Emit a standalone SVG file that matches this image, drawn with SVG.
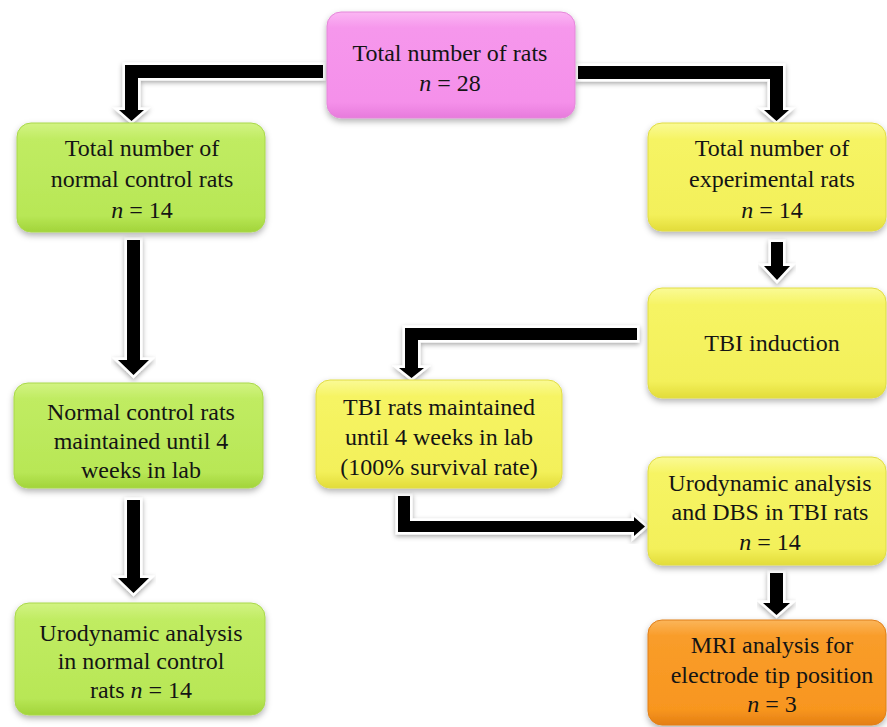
<svg xmlns="http://www.w3.org/2000/svg" width="887" height="727" viewBox="0 0 887 727">
<style>
text{font-family:"Liberation Serif",serif;font-size:24px;fill:#141414;text-anchor:middle}
.i{font-style:italic}
.arrow{fill:#000;stroke:#fff;stroke-width:5;stroke-linejoin:miter;paint-order:stroke;filter:url(#ash)}
.box{filter:url(#sh)}
</style>
<defs>
<filter id="sh" x="-10%" y="-10%" width="120%" height="130%">
<feDropShadow dx="0" dy="3" stdDeviation="3" flood-color="#000" flood-opacity="0.3"/>
</filter>
<filter id="ash" x="-20%" y="-20%" width="140%" height="140%">
<feDropShadow dx="0" dy="2" stdDeviation="2.5" flood-color="#000" flood-opacity="0.35"/>
</filter>
<linearGradient id="gPink" x1="0" y1="0" x2="0" y2="1">
<stop offset="0" stop-color="#fbb6f3"/><stop offset="0.15" stop-color="#f697ec"/><stop offset="0.85" stop-color="#f590ea"/><stop offset="1" stop-color="#e77bdc"/>
</linearGradient>
<linearGradient id="gGreen" x1="0" y1="0" x2="0" y2="1">
<stop offset="0" stop-color="#d2f383"/><stop offset="0.15" stop-color="#c0ec62"/><stop offset="0.85" stop-color="#b8e756"/><stop offset="1" stop-color="#a2d43a"/>
</linearGradient>
<linearGradient id="gYellow" x1="0" y1="0" x2="0" y2="1">
<stop offset="0" stop-color="#fafa96"/><stop offset="0.15" stop-color="#f6f464"/><stop offset="0.85" stop-color="#f3f05a"/><stop offset="1" stop-color="#e2dc3a"/>
</linearGradient>
<linearGradient id="gOrange" x1="0" y1="0" x2="0" y2="1">
<stop offset="0" stop-color="#fbb55a"/><stop offset="0.15" stop-color="#f99d2a"/><stop offset="0.85" stop-color="#f8961f"/><stop offset="1" stop-color="#e47f14"/>
</linearGradient>
</defs>

<g id="connectors">
<polygon class="arrow" points="323,65 125,65 125,110 119,110 131.5,121 144,110 138,110 138,78 323,78"/>
<polygon class="arrow" points="578,66 783,66 783,110 789,110 776.5,121 764,110 770,110 770,79 578,79"/>
<polygon class="arrow" points="127,240 140,240 140,360 149,360 133.5,375 118,360 127,360"/>
<polygon class="arrow" points="127,500 140,500 140,578 149,578 133.5,593 118,578 127,578"/>
<polygon class="arrow" points="771,242 783,242 783,266 790,266 777,280 764,266 771,266"/>
<polygon class="arrow" points="770,573 783,573 783,603 790,603 776.5,615 763,603 770,603"/>
<polygon class="arrow" points="637,328 405,328 405,368 399,368 411.5,378 424,368 418,368 418,340 637,340"/>
<polygon class="arrow" points="398,496 410,496 410,521 634,521 634,517 645,526.5 634,536 634,532 398,532"/>
</g>

<g id="n-total">
<rect class="box" x="327" y="12" width="248" height="106" rx="14" fill="url(#gPink)" stroke="#e487d9" stroke-width="1"/>
<text x="450" y="61">Total number of rats</text>
<text x="450" y="91"><tspan class="i">n</tspan> = 28</text>
</g>

<g id="n-control">
<rect class="box" x="17" y="123" width="248" height="109" rx="14" fill="url(#gGreen)" stroke="#a9d84a" stroke-width="1"/>
<text x="142" y="156">Total number of</text>
<text x="142" y="187">normal control rats</text>
<text x="142" y="218"><tspan class="i">n</tspan> = 14</text>
</g>

<g id="n-experimental">
<rect class="box" x="648" y="123" width="238" height="108" rx="14" fill="url(#gYellow)" stroke="#e0dc44" stroke-width="1"/>
<text x="772" y="156">Total number of</text>
<text x="772" y="187">experimental rats</text>
<text x="772" y="218"><tspan class="i">n</tspan> = 14</text>
</g>

<g id="n-tbi-induction">
<rect class="box" x="648" y="288" width="238" height="110" rx="14" fill="url(#gYellow)" stroke="#e0dc44" stroke-width="1"/>
<text x="772" y="351">TBI induction</text>
</g>

<g id="n-control-maintained">
<rect class="box" x="14" y="383" width="249" height="105" rx="14" fill="url(#gGreen)" stroke="#a9d84a" stroke-width="1"/>
<text x="141" y="420">Normal control rats</text>
<text x="141" y="449">maintained until 4</text>
<text x="141" y="478">weeks in lab</text>
</g>

<g id="n-tbi-maintained">
<rect class="box" x="316" y="380" width="246" height="108" rx="14" fill="url(#gYellow)" stroke="#e0dc44" stroke-width="1"/>
<text x="439" y="415">TBI rats maintained</text>
<text x="439" y="445">until 4 weeks in lab</text>
<text x="439" y="475">(100% survival rate)</text>
</g>

<g id="n-urodynamic-dbs">
<rect class="box" x="648" y="457" width="238" height="108" rx="14" fill="url(#gYellow)" stroke="#e0dc44" stroke-width="1"/>
<text x="770" y="491">Urodynamic analysis</text>
<text x="770" y="520">and DBS in TBI rats</text>
<text x="770" y="550"><tspan class="i">n</tspan> = 14</text>
</g>

<g id="n-urodynamic-control">
<rect class="box" x="15" y="603" width="250" height="112" rx="14" fill="url(#gGreen)" stroke="#a9d84a" stroke-width="1"/>
<text x="141" y="641">Urodynamic analysis</text>
<text x="141" y="669">in normal control</text>
<text x="141" y="698">rats <tspan class="i">n</tspan> = 14</text>
</g>

<g id="n-mri">
<rect class="box" x="648" y="620" width="238" height="105" rx="14" fill="url(#gOrange)" stroke="#e07f1a" stroke-width="1"/>
<text x="772" y="653">MRI analysis for</text>
<text x="772" y="683">electrode tip position</text>
<text x="772" y="712"><tspan class="i">n</tspan> = 3</text>
</g>
</svg>
